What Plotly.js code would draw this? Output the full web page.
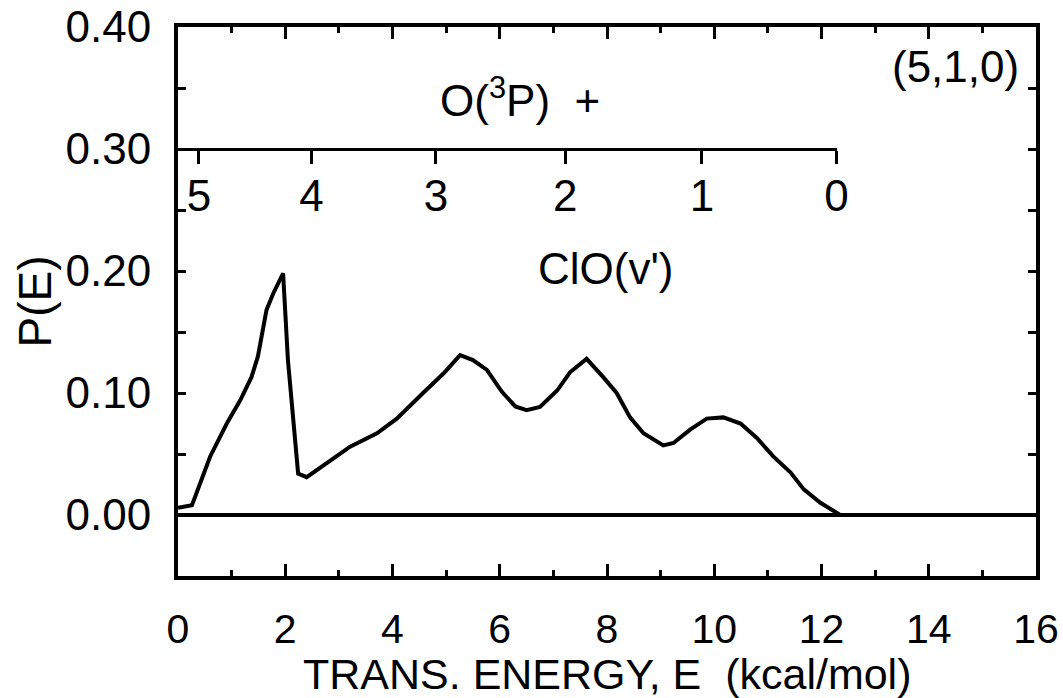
<!DOCTYPE html>
<html>
<head>
<meta charset="utf-8">
<script src="https://cdn.plot.ly/plotly-3.0.1.min.js"></script>
<style>
html,body{margin:0;padding:0;background:#fff;}
#chart{width:1063px;height:698px;}
</style>
</head>
<body>
<div id="chart"></div>
<script>
// Translational energy distribution P(E) vs E (kcal/mol)
var energy = [0.00, 0.26, 0.60, 0.91, 1.16, 1.37, 1.49, 1.65, 1.78, 1.96, 2.05, 2.24, 2.40, 2.77, 3.21, 3.71, 4.08, 4.57, 4.95, 5.26, 5.50, 5.76, 6.04, 6.29, 6.50, 6.75, 7.07, 7.31, 7.62, 7.93, 8.18, 8.43, 8.68, 9.05, 9.24, 9.55, 9.86, 10.17, 10.49, 10.80, 11.10, 11.42, 11.67, 11.98, 12.26, 12.35];
var pE =     [0.006, 0.008, 0.048, 0.075, 0.094, 0.113, 0.130, 0.168, 0.182, 0.198, 0.127, 0.034, 0.031, 0.042, 0.056, 0.067, 0.079, 0.100, 0.116, 0.131, 0.127, 0.119, 0.101, 0.089, 0.086, 0.0885, 0.102, 0.117, 0.128, 0.113, 0.100, 0.080, 0.067, 0.057, 0.059, 0.070, 0.079, 0.080, 0.075, 0.063, 0.048, 0.035, 0.021, 0.010, 0.002, 0.000];

// ClO(v') vibrational level energy markers (E in kcal/mol)
var vibLabels = ['5', '4', '3', '2', '1', '0'];
var vibEnergies = [0.39, 2.49, 4.81, 7.22, 9.77, 12.28];

var yTickVals = [0.00, 0.10, 0.20, 0.30, 0.40];
var xTickVals = [0, 2, 4, 6, 8, 10, 12, 14, 16];

var FONT = 'Liberation Sans, Arial, sans-serif';
var TICK = 44;

var traces = [
  {
    x: energy, y: pE, type: 'scatter', mode: 'lines',
    line: {color: '#000', width: 4, shape: 'linear'},
    hoverinfo: 'skip', showlegend: false
  },
  {
    x: vibEnergies, y: vibEnergies.map(function(){return null;}),
    xaxis: 'x2', yaxis: 'y', type: 'scatter', mode: 'lines',
    hoverinfo: 'skip', showlegend: false
  }
];

var yMin = -0.05, yMax = 0.40;
var vibAxisLevel = 0.30;
var xMax = 16;
var vibMax = vibEnergies[vibEnergies.length - 1];

var layout = {
  width: 1063, height: 698,
  margin: {l: 178, r: 27, t: 27, b: 122},
  paper_bgcolor: '#fff', plot_bgcolor: 'rgba(0,0,0,0)',
  font: {family: FONT, color: '#000', size: TICK},
  showlegend: false,
  xaxis: {
    range: [0, xMax], tickvals: xTickVals, ticktext: xTickVals.map(String),
    ticks: 'inside', ticklen: 12, tickwidth: 3, tickcolor: '#000',
    minor: {dtick: 1, ticks: 'inside', ticklen: 6, tickwidth: 3, tickcolor: '#000', showgrid: false},
    showline: true, linewidth: 4, linecolor: '#000', mirror: 'ticks',
    showgrid: false, zeroline: false, ticklabelstandoff: 14,
    tickfont: {size: 41, family: FONT}
  },
  yaxis: {
    range: [yMin, yMax], tickvals: yTickVals, ticktext: yTickVals.map(function(v){return v.toFixed(2);}),
    ticks: 'inside', ticklen: 8, tickwidth: 3, tickcolor: '#000',
    minor: {dtick: 0.05, ticks: 'inside', ticklen: 8, tickwidth: 3, tickcolor: '#000', showgrid: false},
    showline: true, linewidth: 4, linecolor: '#000', mirror: 'ticks',
    showgrid: false, zeroline: true, zerolinewidth: 4, zerolinecolor: '#000',
    ticklabelstandoff: 14,
    tickfont: {size: TICK, family: FONT},
    title: {text: 'P(E)', font: {size: 46, family: FONT}, standoff: 0}
  },
  xaxis2: {
    range: [0, vibMax], domain: [0, vibMax / xMax],
    anchor: 'free', position: (vibAxisLevel - yMin) / (yMax - yMin), side: 'bottom',
    tickvals: vibEnergies, ticktext: vibLabels,
    ticks: 'outside', ticklen: 13, tickwidth: 3, tickcolor: '#000',
    showline: true, linewidth: 3, linecolor: '#000',
    showgrid: false, zeroline: false, ticklabelstandoff: -6,
    tickfont: {size: TICK, family: FONT}
  },
  annotations: [
    {text: 'TRANS. ENERGY, E&nbsp;&nbsp;(kcal/mol)', xref: 'paper', yref: 'paper',
     x: 0.5, y: -0.1785, xanchor: 'center', yanchor: 'middle',
     showarrow: false, font: {size: 43, family: FONT}},
    {text: 'O(<sup>3</sup>P)&nbsp;&nbsp;+', xref: 'x', yref: 'y', x: 6.38, y: 0.342,
     showarrow: false, font: {size: TICK, family: FONT}},
    {text: 'ClO(v\')', xref: 'x', yref: 'y', x: 7.97, y: 0.202,
     showarrow: false, font: {size: TICK, family: FONT}},
    {text: '(5,1,0)', xref: 'x', yref: 'y', x: 14.5, y: 0.368,
     showarrow: false, font: {size: TICK, family: FONT}}
  ]
};

Plotly.newPlot('chart', traces, layout, {displayModeBar: false, staticPlot: true});
</script>
</body>
</html>
